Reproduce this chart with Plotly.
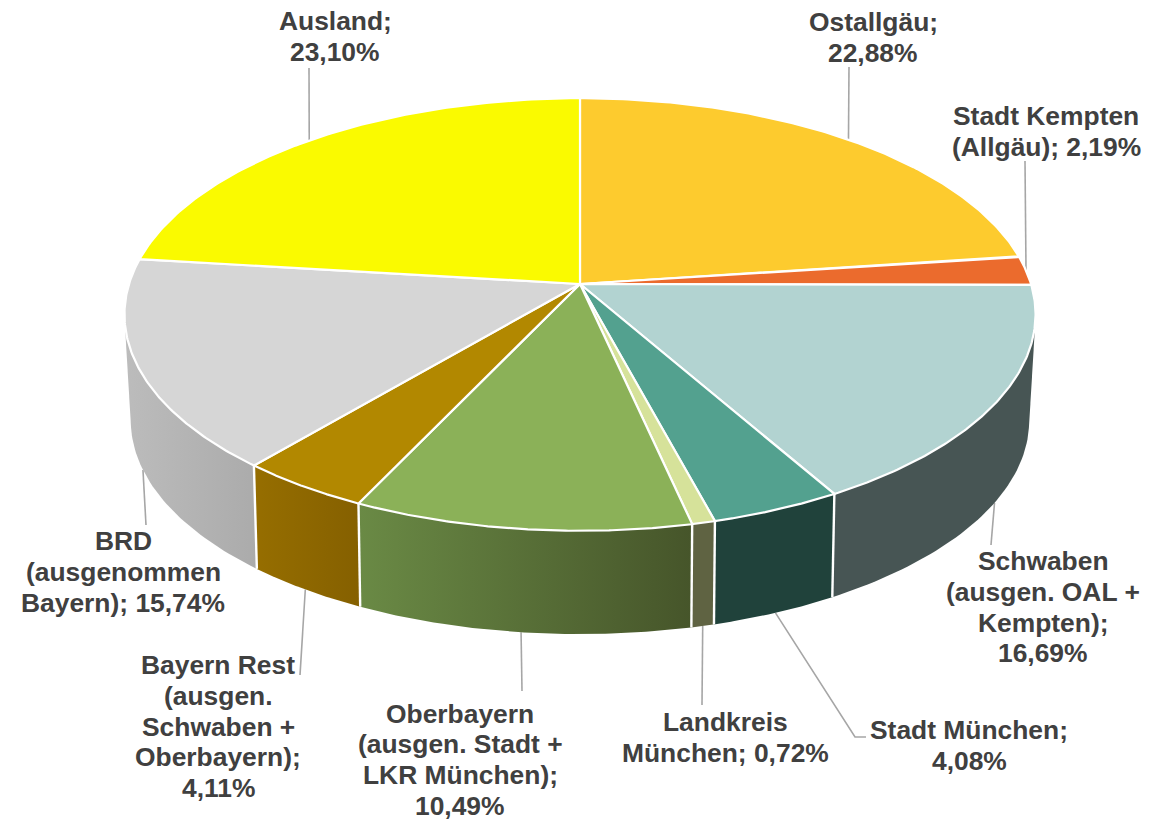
import numpy as np
import plotly.graph_objects as go

categories = ["Ostallgäu", "Stadt Kempten (Allgäu)", "Schwaben (ausgen. OAL + Kempten)",
              "Stadt München", "Landkreis München", "Oberbayern (ausgen. Stadt + LKR München)",
              "Bayern Rest (ausgen. Schwaben + Oberbayern)", "BRD (ausgenommen Bayern)", "Ausland"]
values = [22.88, 2.19, 16.69, 4.08, 0.72, 10.49, 4.11, 15.74, 23.10]
label_lines = [
    ["Ostallgäu;", "22,88%"],
    ["Stadt Kempten", "(Allgäu); 2,19%"],
    ["Schwaben", "(ausgen. OAL +", "Kempten);", "16,69%"],
    ["Stadt München;", "4,08%"],
    ["Landkreis", "München; 0,72%"],
    ["Oberbayern", "(ausgen. Stadt +", "LKR München);", "10,49%"],
    ["Bayern Rest", "(ausgen.", "Schwaben +", "Oberbayern);", "4,11%"],
    ["BRD", "(ausgenommen", "Bayern); 15,74%"],
    ["Ausland;", "23,10%"],
]
face_colors = ["#FDCB2E", "#EB6B2D", "#B2D3D1", "#53A18F", "#D6E29A",
               "#8BB158", "#B28800", "#D6D6D6", "#FAFA00"]
wall_left = ["#C09820", "#B05020", "#475554", "#20423B", "#5F6342",
             "#6A8A45", "#966E00", "#BCBCBC", "#BBBB00"]
wall_right = ["#C09820", "#B05020", "#475554", "#20423B", "#5F6342",
              "#46552A", "#856000", "#ABABAB", "#BBBB00"]

label_x = [873, 1046, 1043, 969, 725, 460, 218, 123, 335]
label_y = [22, 116, 561, 730, 722, 713.5, 665, 541, 21]
line_step = 30.8
leader_ends = [[(849, 67)], [(1025, 161)], [(991, 545)], [(855, 737), (866, 737)], [(702, 705)],
               [(522, 691)], [(300, 675)], [(146, 525)], [(309, 68)]]
leader_on_bottom = [False, False, True, True, True, True, True, True, False]

CX, CY, RX, RY, K = 580.0, 284.0, 451.0, 212.0, 0.141
BOTTOM_SCALE, DEPTH, BOTTOM_K = 0.985, 105.0, 0.148


def top(theta):
    u, v = np.sin(theta), np.cos(theta)
    w = 1 + K * v
    return CX + RX * u / w, CY - RY * v / w


def bottom(theta):
    u, v = np.sin(theta), np.cos(theta)
    w = 1 + BOTTOM_K * v
    return CX + BOTTOM_SCALE * RX * u / w, CY + DEPTH - BOTTOM_SCALE * RY * v / w


def hull(pts):
    pts = sorted(set(pts))

    def half(seq):
        out = []
        for p in seq:
            while len(out) > 1 and ((out[-1][0] - out[-2][0]) * (p[1] - out[-2][1])
                                    - (out[-1][1] - out[-2][1]) * (p[0] - out[-2][0])) <= 0:
                out.pop()
            out.append(p)
        return out[:-1]

    return half(pts) + half(pts[::-1])


cum = np.concatenate([[0], np.cumsum(values)]) / sum(values) * 2 * np.pi
fig = go.Figure()


def add_line(xs, ys, color, width):
    fig.add_trace(go.Scatter(x=xs, y=ys, mode="lines", line=dict(color=color, width=width),
                             hoverinfo="skip", showlegend=False))


# leader lines
for i, ends in enumerate(leader_ends):
    mid = (cum[i] + cum[i + 1]) / 2
    sx, sy = bottom(mid) if leader_on_bottom[i] else top(mid)
    add_line([sx] + [e[0] for e in ends], [sy] + [e[1] for e in ends], "#A6A6A6", 1.6)

# side walls, only those facing the viewer, outer ones first
visible = [i for i in range(len(values)) if cum[i + 1] > np.pi / 2 + 0.01 and cum[i] < 1.5 * np.pi + 0.2]
visible.sort(key=lambda i: -abs((cum[i] + cum[i + 1]) / 2 - np.pi))
for i in visible:
    th = np.linspace(cum[i], cum[i + 1], 60)
    pts = [tuple(map(float, top(t))) for t in th] + [tuple(map(float, bottom(t))) for t in th]
    h = hull(pts)
    hx, hy = zip(*(h + h[:1]))
    fig.add_trace(go.Scatter(
        x=hx, y=hy, mode="lines", fill="toself", line=dict(width=0),
        fillgradient=dict(type="horizontal", colorscale=[[0, wall_left[i]], [1, wall_right[i]]]),
        hoverinfo="skip", showlegend=False))

# dividers between walls
for i in range(len(values) - 1):
    t = cum[i + 1]
    if np.pi / 2 + 0.05 < t < 1.5 * np.pi:
        tx, ty = top(t)
        bx, by = bottom(t)
        add_line([tx, bx], [ty, by], "white", 2.4)

# top faces
for i in range(len(values)):
    th = np.linspace(cum[i], cum[i + 1], 120)
    x, y = top(th)
    fig.add_trace(go.Scatter(
        x=np.r_[CX, x, CX], y=np.r_[CY, y, CY], mode="lines", fill="toself",
        fillcolor=face_colors[i], line=dict(color="white", width=2.2),
        name=categories[i], hoverinfo="skip", showlegend=False))

# labels: one annotation per line for the tight line spacing of the original
for lines, lx, ly in zip(label_lines, label_x, label_y):
    for n, text in enumerate(lines):
        fig.add_annotation(x=lx, y=ly + n * line_step, text=text, showarrow=False,
                           xanchor="center", yanchor="middle",
                           font=dict(family="Liberation Sans", size=26.4, color="#404040", weight="bold"))

fig.update_layout(
    width=1170, height=819, margin=dict(l=0, r=0, t=0, b=0),
    paper_bgcolor="white", plot_bgcolor="white", showlegend=False,
    xaxis=dict(range=[0, 1170], visible=False, fixedrange=True),
    yaxis=dict(range=[819, 0], visible=False, fixedrange=True),
)
fig.write_html("out.html", config=dict(displayModeBar=False),
               post_script="document.body.style.margin='0';document.body.style.overflow='hidden';")
